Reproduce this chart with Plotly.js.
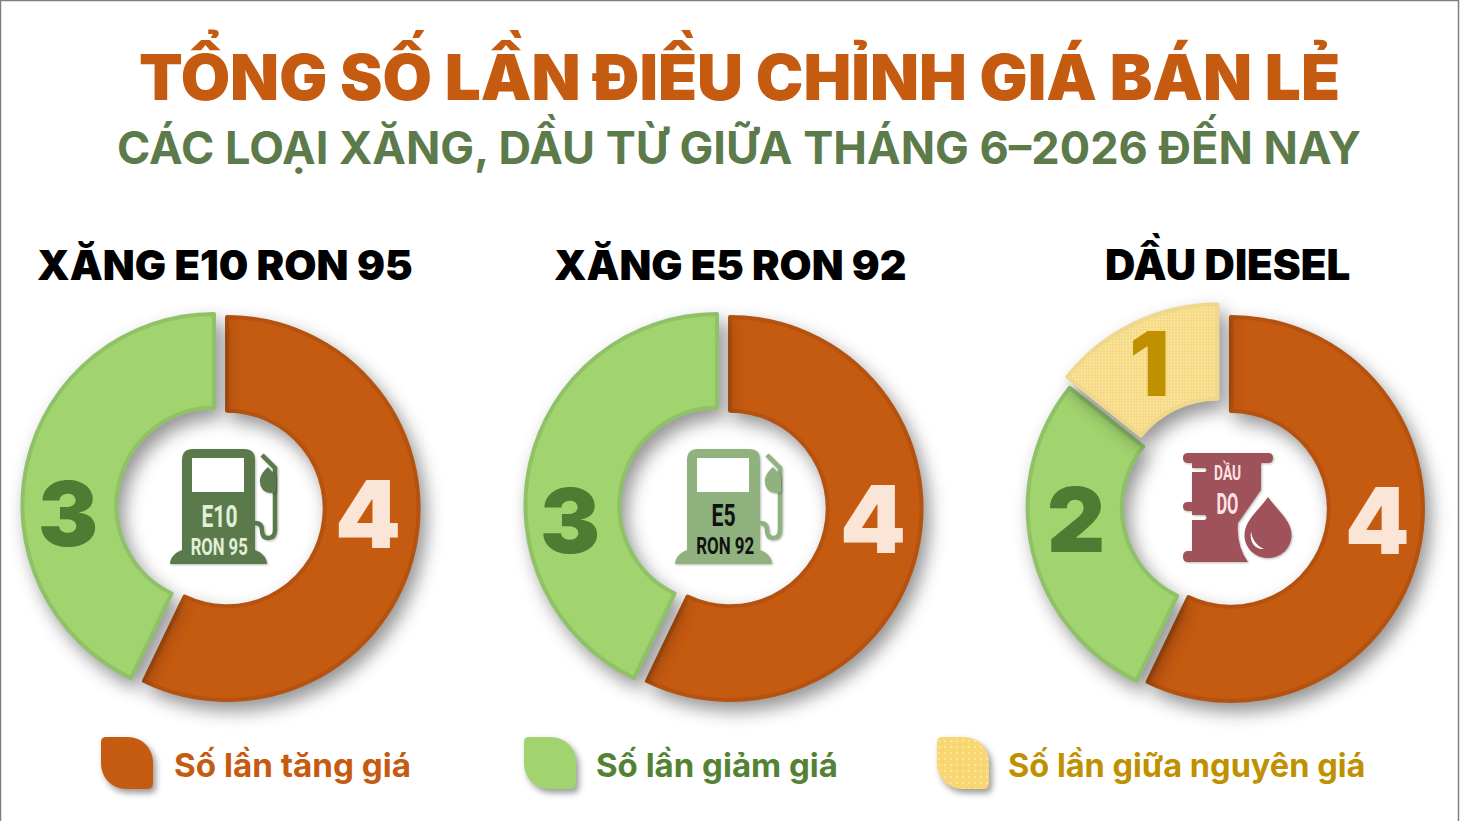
<!DOCTYPE html>
<html><head><meta charset="utf-8">
<script src="https://cdn.plot.ly/plotly-3.0.0.min.js"></script>
<style>
html,body{margin:0;padding:0;background:#fff;}
#chart{width:1460px;height:821px;}
.pielayer .slice path.surface{filter:drop-shadow(6px 9px 9px rgba(0,0,0,.42));}
.shapelayer path{filter:drop-shadow(1px 1px 1px rgba(0,0,0,.28));}
.shapelayer path[data-index="0"],.shapelayer path[data-index="1"],.shapelayer path[data-index="2"]{filter:drop-shadow(3px 4px 3px rgba(0,0,0,.4));}
.shapelayer path[data-index="4"],.shapelayer path[data-index="8"],.shapelayer path[data-index="12"],.shapelayer path[data-index="14"],.shapelayer path[data-index="15"]{filter:none;}
</style></head><body><div id="chart"></div>
<script>
const titleMain = "TỔNG SỐ LẦN ĐIỀU CHỈNH GIÁ BÁN LẺ";
const titleSub = "CÁC LOẠI XĂNG, DẦU TỪ GIỮA THÁNG 6–2026 ĐẾN NAY";
const categories = ["Số lần tăng giá", "Số lần giảm giá", "Số lần giữa nguyên giá"];
const fuelNames = ["XĂNG E10 RON 95", "XĂNG E5 RON 92", "DẦU DIESEL"];
const e10Labels = ["Số lần tăng giá", "Số lần giảm giá"];
const e10Values = [4, 3];
const e5Labels = ["Số lần tăng giá", "Số lần giảm giá"];
const e5Values = [4, 3];
const dieselLabels = ["Số lần tăng giá", "Số lần giảm giá", "Số lần giữa nguyên giá"];
const dieselValues = [4, 2, 1];

const W = 1460, H = 821;
const ORANGE = "#C55A11", GREEN = "#A1D36E", YELLOW = "#F6D97F";
const ORANGE_L = "#B5520F", GREEN_L = "#8FC266", YELLOW_L = "#EFD78C";
const DISPLAY = "Inter, 'Open Sans', sans-serif";
const NARROW = "Roboto, 'Liberation Sans', sans-serif";

function dom(cx, cy, R, pull) {
  const s = R * (1 + pull);
  return {x: [(cx - s) / W, (cx + s) / W], y: [1 - (cy + s) / H, 1 - (cy - s) / H]};
}
function pieTrace(labels, values, cx, cy, R, pulls, colors, lines) {
  return {
    type: "pie", labels, values, sort: false, direction: "clockwise", rotation: 0,
    hole: 0.51, pull: pulls, domain: dom(cx, cy, R, Math.max(...pulls)),
    textinfo: "none", hoverinfo: "label+value", showlegend: false,
    marker: {
      colors, line: {color: lines, width: 4},
      pattern: {shape: labels.map((l, i) => i === 2 ? "." : ""), fgcolor: "#FBE9B0", bgcolor: labels.map((l, i) => colors[i]), size: 3, solidity: 0.3}
    }
  };
}
const data = [
  pieTrace(e10Labels, e10Values, 220.5, 507, 191.5, [0.035, 0.035], [ORANGE, GREEN], [ORANGE_L, GREEN_L]),
  pieTrace(e5Labels, e5Values, 723.5, 507, 191.5, [0.035, 0.035], [ORANGE, GREEN], [ORANGE_L, GREEN_L]),
  pieTrace(dieselLabels, dieselValues, 1222.5, 507, 192, [0.045, 0.015, 0.06], [ORANGE, GREEN, YELLOW], [ORANGE_L, GREEN_L, YELLOW_L])
];

// decoration paths in page pixels, converted to paper fractions
function P(d, dx) {
  dx = dx || 0;
  return d.replace(/(-?[\d.]+) (-?[\d.]+)/g, (m, x, y) =>
    ((+x + dx) / W).toFixed(5) + " " + (1 - +y / H).toFixed(5));
}
function sh(d, fill, dx, lineColor, lineW, layer) {
  return {type: "path", xref: "paper", yref: "paper", path: P(d, dx), fillcolor: fill || "rgba(0,0,0,0)",
    line: {color: lineColor || "rgba(0,0,0,0)", width: lineW || 0}, layer: layer || "above"};
}
function leaf(x0, fill) {
  const x1 = x0 + 52, y0 = 737, y1 = 789;
  return sh(`M ${x0 + 5} ${y0} L ${x1 - 26} ${y0} C ${x1 - 10} ${y0} ${x1} ${y0 + 12} ${x1} ${y0 + 26} L ${x1} ${y1 - 6} Q ${x1} ${y1} ${x1 - 6} ${y1} L ${x0 + 26} ${y1} C ${x0 + 10} ${y1} ${x0} ${y1 - 12} ${x0} ${y1 - 26} L ${x0} ${y0 + 5} Q ${x0} ${y0} ${x0 + 5} ${y0} Z`, fill);
}
function pump(color, dx) {
  return [
    sh("M 170 564 C 170 557 176 552 182 550 L 182 460 Q 182 449 193 449 L 244 449 Q 255 449 255 460 L 255 550 C 261 552 267 557 267 564 Z", color, dx),
    sh("M 192 458 L 244 458 L 244 492 L 192 492 Z", "#FFFFFF", dx),
    sh("M 262 455 L 275 468 L 275 530 Q 275 538 268 538 Q 262 538 262 530 Q 262 523 255 523", null, dx, color, 4.5),
    sh("M 268 467 L 276 476 L 276 492 Q 268 495 263 490 Q 259 485 260 479 Q 261 473 268 467 Z", color, dx)
  ];
}
const DRUM = "#A0525B";
const shapes = [
  leaf(101, ORANGE), leaf(524, GREEN), leaf(937, "#F8D671"),
  ...pump("#5B7A4B", 0),
  ...pump("#8FB27E", 505),
  sh("M 1188 453 L 1268 453 Q 1273 453 1273 458 Q 1273 463 1268 463 L 1261 463 L 1261 490 L 1238 523 Q 1236 545 1248 562 L 1188 562 Q 1183 562 1183 556.5 Q 1183 551 1188 551 L 1192 551 L 1192 520 L 1205 520 Q 1208 517.5 1205 515 L 1192 515 L 1192 511 L 1188 511 Q 1183 511 1183 506.5 Q 1183 502 1188 502 L 1192 502 L 1192 472 L 1205 472 Q 1208 470 1205 468 L 1192 468 L 1192 463 L 1188 463 Q 1183 463 1183 458 Q 1183 453 1188 453 Z", DRUM),
  sh("M 1268 491 C 1258 505 1240 517 1240 535 C 1240 551 1253 562 1268 562 C 1283 562 1295 551 1295 535 C 1295 517 1278 505 1268 491 Z", "#FFFFFF"),
  sh("M 1268 497 C 1260 509 1244.5 520 1244.5 535 C 1244.5 548 1255 558 1268 558 C 1281 558 1291.5 548 1291.5 535 C 1291.5 520 1276 509 1268 497 Z", DRUM),
  sh("M 1251 531 C 1249 543 1256 550 1264 549 C 1257 546 1252 540 1251 531 Z", "#FFFFFF"),
  sh("M 0.5 821 L 0.5 0.5 L 1458.5 0.5 L 1458.5 821", null, 0, "#7F7F7F", 1.5, "below")
];

function ann(text, x, y, size, color, family, weight, xanchor) {
  return {text: String(text), x: x / W, y: 1 - y / H, xref: "paper", yref: "paper", showarrow: false,
    xanchor: xanchor || "center", yanchor: "middle", font: {size, color, family, weight}};
}
const DG = "#4F7C33", PEACH = "#FBE5D6";
const annotations = [
  ann(titleMain, 739, 72, 63.8, ORANGE, DISPLAY, 900),
  ann(titleSub, 738.5, 145, 45.1, "#5C7A4A", DISPLAY, 700),
  ann(fuelNames[0], 225, 265, 41.6, "#000", DISPLAY, 900),
  ann(fuelNames[1], 730, 265, 41.4, "#000", DISPLAY, 900),
  ann(fuelNames[2], 1227, 262, 42, "#000", DISPLAY, 900),
  ann(e10Values[0], 368, 514, 94, PEACH, DISPLAY, 900),
  ann(e10Values[1], 68, 513, 90, DG, DISPLAY, 900),
  ann(e5Values[0], 873, 519, 94, PEACH, DISPLAY, 900),
  ann(e5Values[1], 570, 520, 90, DG, DISPLAY, 900),
  ann(dieselValues[0], 1377, 520, 92, PEACH, DISPLAY, 900),
  ann(dieselValues[1], 1076, 519, 90, DG, DISPLAY, 900),
  ann(dieselValues[2], 1149, 364, 90, "#BF9000", DISPLAY, 900),
  ann("E10", 219.5, 516, 31, "#E2EFD9", NARROW, 700),
  ann("RON 95", 219, 547, 24, "#E2EFD9", NARROW, 700),
  ann("E5", 723, 515, 31, "#111", NARROW, 700),
  ann("RON 92", 725, 546, 24, "#111", NARROW, 700),
  ann("DẦU", 1227, 472, 21, "#FBE3E3", NARROW, 700),
  ann("DO", 1227, 504, 29, "#FBE3E3", NARROW, 700),
  ann(categories[0], 172, 765, 33.2, ORANGE, DISPLAY, 700, "left"),
  ann(categories[1], 594, 765, 33, "#548235", DISPLAY, 700, "left"),
  ann(categories[2], 1006, 765, 32.5, "#BF9000", DISPLAY, 700, "left")
];
const narrowWidths = {"E10": 36, "RON 95": 57, "E5": 24, "RON 92": 58, "DẦU": 27, "DO": 22};
Plotly.newPlot("chart", data, {
  width: W, height: H, margin: {l: 0, r: 0, t: 0, b: 0}, paper_bgcolor: "#fff",
  showlegend: false, shapes, annotations
}, {displayModeBar: false}).then(() => {
  // condense the icon captions, which are set in a narrow face in the original
  document.querySelectorAll("#chart .annotation-text").forEach(t => {
    const w = narrowWidths[t.textContent];
    if (w) { t.setAttribute("textLength", w); t.setAttribute("lengthAdjust", "spacingAndGlyphs"); }
  });
  // dotted fill of the yellow legend swatch
  const svg = document.querySelector("#chart svg.main-svg");
  const NS = "http://www.w3.org/2000/svg";
  const defs = document.createElementNS(NS, "defs");
  const pat = document.createElementNS(NS, "pattern");
  pat.setAttribute("id", "swatchDots"); pat.setAttribute("width", 6); pat.setAttribute("height", 6);
  pat.setAttribute("patternUnits", "userSpaceOnUse");
  const bg = document.createElementNS(NS, "rect");
  bg.setAttribute("width", 6); bg.setAttribute("height", 6); bg.setAttribute("fill", "#F8D671");
  const dot = document.createElementNS(NS, "circle");
  dot.setAttribute("cx", 3); dot.setAttribute("cy", 3); dot.setAttribute("r", 1); dot.setAttribute("fill", "#FCEBB0");
  pat.appendChild(bg); pat.appendChild(dot); defs.appendChild(pat); svg.appendChild(defs);
  const sw = document.querySelector('#chart .shapelayer path[data-index="2"]');
  if (sw) sw.style.fill = "url(#swatchDots)";
});
</script></body></html>
